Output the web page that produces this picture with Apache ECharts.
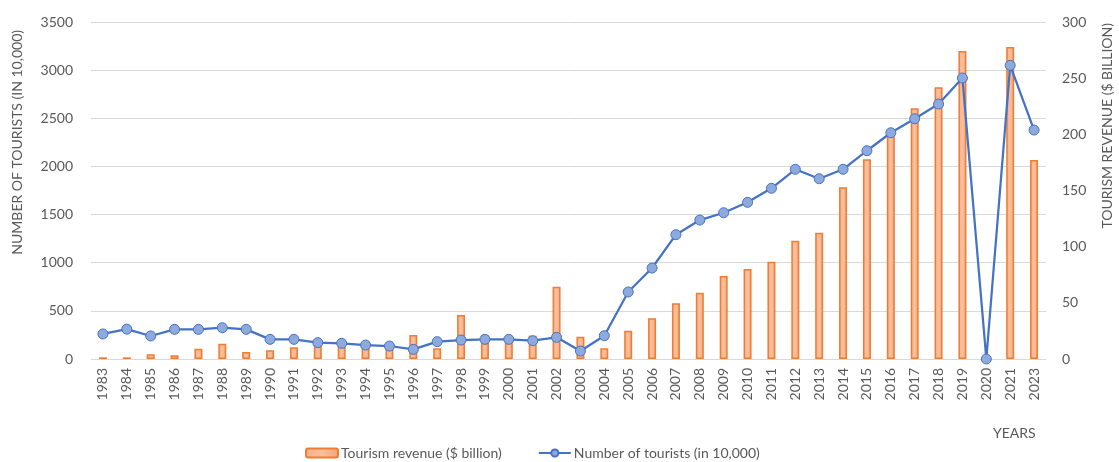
<!DOCTYPE html>
<html>
<head>
<meta charset="utf-8">
<script src="https://cdn.jsdelivr.net/npm/echarts@6/dist/echarts.min.js"></script>
<style>
  html, body { margin: 0; padding: 0; background: #fff; }
  #chart { width: 1119px; height: 462px; }
</style>
</head>
<body>
<div id="chart"></div>
<script>
// Years on the category axis (no 2022 entry)
const years = ['1983','1984','1985','1986','1987','1988','1989','1990','1991','1992',
  '1993','1994','1995','1996','1997','1998','1999','2000','2001','2002',
  '2003','2004','2005','2006','2007','2008','2009','2010','2011','2012',
  '2013','2014','2015','2016','2017','2018','2019','2020','2021','2023'];

// Tourism revenue, $ billion (right axis)
const revenue = [1.5, 1.5, 4.2, 3.3, 9.2, 13.6, 6.2, 7.7, 10.4, 12.5,
  12.5, 15.4, 11, 21.4, 9.5, 39.2, 21.4, 18.5, 20.8, 64.4,
  19.9, 9.5, 25.2, 36.2, 49.6, 59, 73.9, 80.1, 86.6, 105.3,
  112.4, 152.8, 177.8, 199, 223.2, 241.9, 274.2, 0, 277.7, 177.2];

// Number of tourists, in 10,000 (left axis)
const tourists = [260, 310, 239, 308, 308, 325, 308, 204, 204, 170,
  163, 145, 135, 100, 180, 197, 204, 204, 190, 225,
  83, 242, 696, 945, 1291, 1443, 1519, 1627, 1773, 1970,
  1872, 1970, 2163, 2350, 2495, 2648, 2918, 0, 3050, 2378];

const leftTicks = { min: 0, max: 3500, interval: 500 };
const rightTicks = { min: 0, max: 300, interval: 50 };

const FONT = 'Lato, "Open Sans", sans-serif';
const GREY = '#595959';

const chart = echarts.init(document.getElementById('chart'), null, { renderer: 'canvas' });

chart.setOption({
  animation: false,
  textStyle: { fontFamily: FONT },
  grid: { left: 91, right: 73, top: 22, bottom: 103 },
  legend: {
    left: 300,
    top: 441,
    itemGap: 36,
    itemWidth: 32,
    itemHeight: 9,
    textStyle: { color: GREY, fontSize: 14, fontFamily: FONT, padding: [0, 0, 0, -2] },
    data: [
      { name: 'Tourism revenue ($ billion)' },
      { name: 'Number of tourists (in 10,000)' }
    ]
  },
  xAxis: {
    type: 'category',
    data: years,
    axisLine: { show: false },
    axisTick: { show: false },
    axisLabel: { rotate: 90, color: GREY, fontSize: 14, margin: 9, interval: 0, fontFamily: FONT }
  },
  yAxis: [
    {
      type: 'value',
      min: leftTicks.min, max: leftTicks.max, interval: leftTicks.interval,
      axisLine: { show: false },
      axisTick: { show: false },
      axisLabel: { color: GREY, fontSize: 14, margin: 18, fontFamily: FONT, formatter: v => String(v) },
      splitLine: { lineStyle: { color: '#D9D9D9', width: 1 } }
    },
    {
      type: 'value',
      min: rightTicks.min, max: rightTicks.max, interval: rightTicks.interval,
      axisLine: { show: false },
      axisTick: { show: false },
      axisLabel: { color: GREY, fontSize: 14, margin: 16, fontFamily: FONT, formatter: v => String(v) },
      splitLine: { show: false }
    }
  ],
  graphic: [
    {
      type: 'text', left: 10, top: 30, rotation: Math.PI / 2,
      style: { text: 'NUMBER OF TOURISTS (IN 10,000)', fill: GREY, font: '14px ' + FONT }
    },
    {
      type: 'text', left: 1100, top: 23, rotation: Math.PI / 2,
      style: { text: 'TOURISM REVENUE ($ BILLION)', fill: GREY, font: '14px ' + FONT }
    },
    {
      type: 'text', left: 993, top: 426,
      style: { text: 'YEARS', fill: GREY, font: '14px ' + FONT }
    }
  ],
  series: [
    {
      name: 'Tourism revenue ($ billion)',
      type: 'bar',
      yAxisIndex: 1,
      data: revenue,
      barWidth: 8,
      itemStyle: {
        color: new echarts.graphic.LinearGradient(0, 0, 1, 0, [
          { offset: 0, color: '#F5AE86' },
          { offset: 0.5, color: '#F8C0A0' },
          { offset: 1, color: '#F3A277' }
        ]),
        borderColor: '#ED7D31',
        borderWidth: 1.5
      }
    },
    {
      name: 'Number of tourists (in 10,000)',
      type: 'line',
      yAxisIndex: 0,
      data: tourists,
      symbol: 'circle',
      symbolSize: 10,
      lineStyle: { color: '#4472C4', width: 2.25 },
      itemStyle: { color: '#8EA9DB', borderColor: '#4472C4', borderWidth: 1 },
      z: 5
    }
  ]
});
</script>
</body>
</html>
